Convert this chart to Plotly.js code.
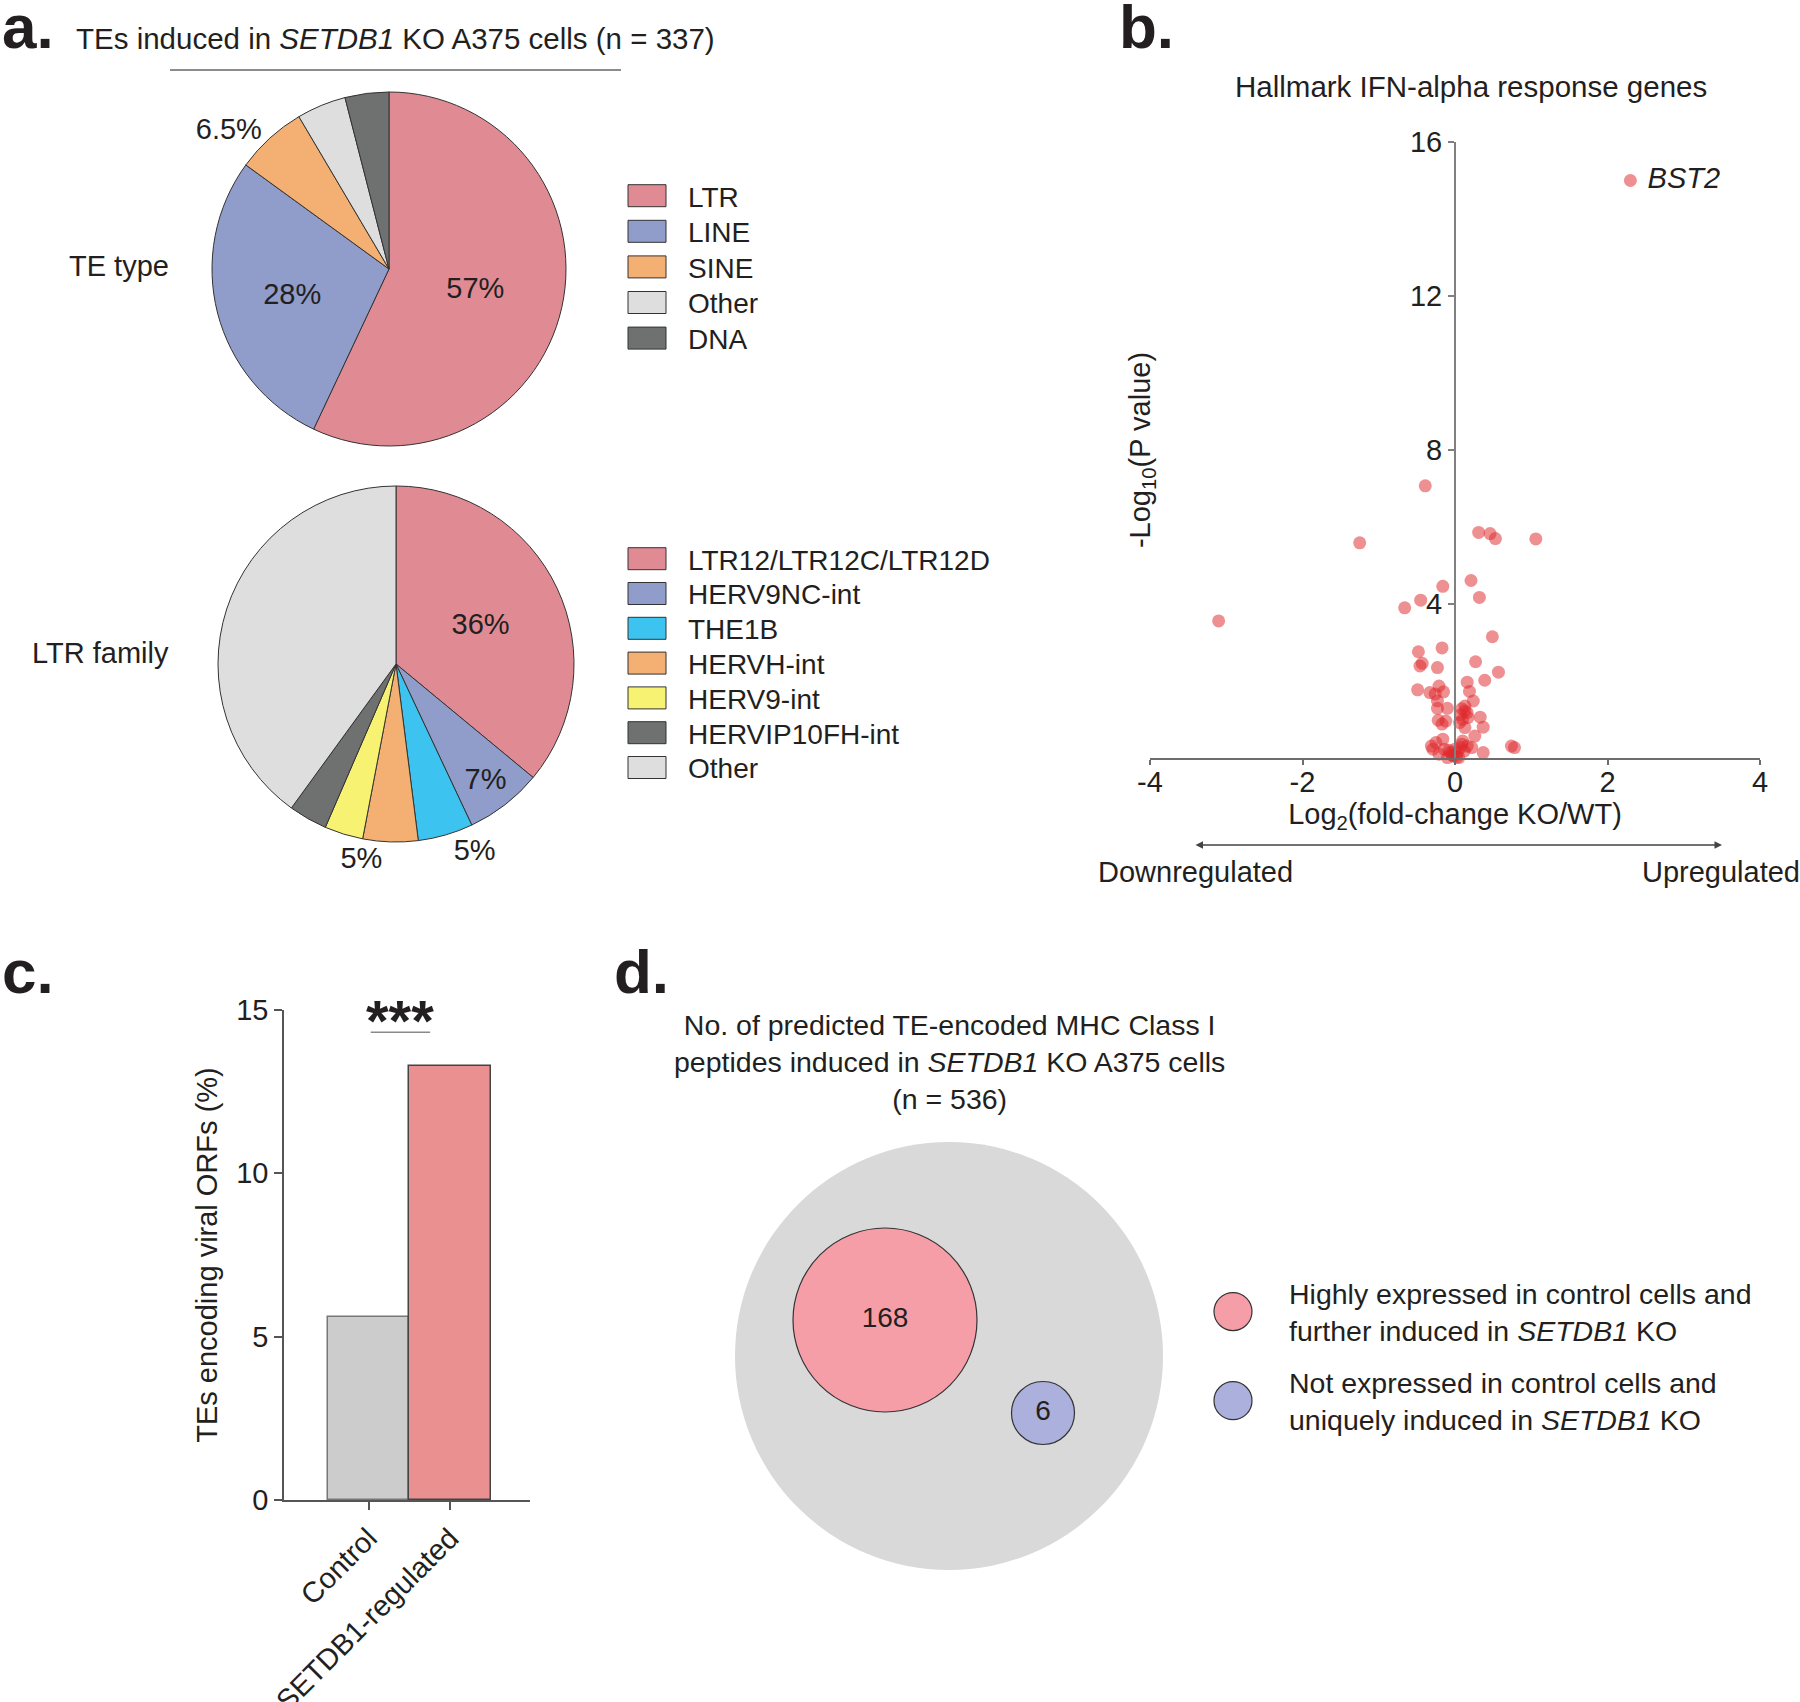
<!DOCTYPE html>
<html><head><meta charset="utf-8">
<script src="https://cdn.plot.ly/plotly-3.0.1.min.js"></script>
<style>html,body{margin:0;padding:0;background:#fff;}#chart{width:1800px;height:1702px;}</style>
</head><body><div id="chart"></div>
<script>
// ---------------- data ----------------
const teTypeLabels = ['LTR', 'LINE', 'SINE', 'Other', 'DNA'];
const teTypeValues = [57, 28, 6.5, 4.5, 4];
const teTypeText = ['57%', '28%', '6.5%', '', ''];

// trailing no-break space keeps this "Other" entry separate from the TE-type "Other"
const ltrFamilyLabels = ['LTR12/LTR12C/LTR12D', 'HERV9NC-int', 'THE1B', 'HERVH-int', 'HERV9-int', 'HERVIP10FH-int', 'Other\u00a0'];
const ltrFamilyValues = [36, 7, 5, 5, 3.5, 3.5, 40];
const ltrFamilyText = ['36%', '7%', '5%', '5%', '', '', ''];

const volcanoLog2FC = [2.3, -0.39, 0.31, 0.46, 0.53, 1.06, -1.25, 0.21, -0.16, 0.32, -0.45, -0.66, -3.1,
  0.49, -0.17, -0.48, -0.43, -0.46, -0.23, 0.27, 0.57, 0.39, 0.16, -0.49, -0.21, -0.33, -0.26, -0.15, 0.19,
  -0.23, 0.24, 0.13, -0.23, -0.10, 0.13, 0.07, 0.17, 0.33, -0.22, -0.12, -0.17, 0.06, 0.13, 0.37, 0.26,
  -0.25, -0.31, -0.16, -0.29, -0.14, -0.21, 0.74, 0.78, 0.22, 0.37, -0.06, -0.02, 0.03, 0.07, 0.00, 0.09,
  -0.10, 0.05, 0.16, 0.10, -0.04, 0.02, -0.08, 0.12, 0.10, 0.16, 0.09];
const volcanoNegLog10P = [15.0, 7.07, 5.86, 5.83, 5.70, 5.69, 5.59, 4.61, 4.46, 4.17, 4.10, 3.90, 3.56,
  3.15, 2.86, 2.76, 2.46, 2.39, 2.35, 2.50, 2.23, 2.02, 1.97, 1.77, 1.87, 1.70, 1.66, 1.72, 1.73,
  1.48, 1.48, 1.35, 1.29, 1.29, 1.22, 1.12, 1.05, 1.06, 0.98, 0.96, 0.88, 0.92, 0.79, 0.80, 0.57,
  0.40, 0.31, 0.49, 0.23, 0.23, 0.10, 0.31, 0.27, 0.27, 0.14, 0.14, 0.05, 0.14, 0.27, 0.23, 0.36,
  0.01, 0.01, 0.31, 0.44, 0.08, 0.02, 0.20, 0.18, 1.00, 1.18, 1.28];
const volcanoGene = volcanoLog2FC.map((v, i) => i === 0 ? 'BST2' : '');
const volcanoXTickVals = [-4, -2, 0, 2, 4];
const volcanoXTickText = ['-4', '-2', '0', '2', '4'];
const volcanoYTickVals = [4, 8, 12, 16];

const barCategories = ['Control', 'SETDB1-regulated'];
const barValues = [5.6, 13.3];
const barYTickVals = [0, 5, 10, 15];

const vennNames = ['All predicted peptides',
  'Highly expressed in control cells and<br>further induced in <i>SETDB1</i> KO',
  'Not expressed in control cells and<br>uniquely induced in <i>SETDB1</i> KO'];
const vennCounts = [536, 168, 6];

// ---------------- layout helpers ----------------
const W = 1800, H = 1702;
const fx = p => p / W;
const fy = p => 1 - p / H;
const FONT = 'Liberation Sans, Arial, Helvetica, sans-serif';
const TXT = '#231f20';

const teTypeColors = ['#e08b94', '#909cc9', '#f4af73', '#dedede', '#6f7170'];
const ltrColors = ['#e08b94', '#909cc9', '#3cc3f0', '#f4af73', '#f8f273', '#6f7170', '#dedede'];

// venn geometry (pixel units inside its own subplot)
const vennX = [349, 285, 443];
const vennY = [236, 200, 293];
const vennDiam = [428, 184, 63];
const vennColors = ['#d9d9d9', '#f59ea8', '#abb0dc'];

const volXDom = [fx(1150), fx(1760)];
const volXRange = [-4, 4];
const volYAxisPos = volXDom[0] + (0 - volXRange[0]) / (volXRange[1] - volXRange[0]) * (volXDom[1] - volXDom[0]);

const data = [
  {
    type: 'pie', labels: teTypeLabels, values: teTypeValues, text: teTypeText,
    textinfo: 'text', textposition: ['inside', 'inside', 'outside', 'none', 'none'],
    insidetextorientation: 'horizontal',
    sort: false, direction: 'clockwise', rotation: 0,
    marker: {colors: teTypeColors, line: {color: '#333', width: 1}},
    textfont: {family: FONT, size: 29, color: TXT},
    domain: {x: [fx(212), fx(566)], y: [fy(446), fy(92)]},
    legend: 'legend', hoverinfo: 'label+percent'
  },
  {
    type: 'pie', labels: ltrFamilyLabels, values: ltrFamilyValues, text: ltrFamilyText,
    textinfo: 'text', textposition: ['inside', 'inside', 'outside', 'outside', 'none', 'none', 'none'],
    insidetextorientation: 'horizontal',
    sort: false, direction: 'clockwise', rotation: 0,
    marker: {colors: ltrColors, line: {color: '#333', width: 1}},
    textfont: {family: FONT, size: 29, color: TXT},
    domain: {x: [fx(218), fx(574)], y: [fy(842), fy(486)]},
    legend: 'legend2', hoverinfo: 'label+percent'
  },
  {
    type: 'scatter', mode: 'markers+text', x: volcanoLog2FC, y: volcanoNegLog10P,
    text: volcanoGene, texttemplate: '\u00a0%{text}', textposition: 'middle right',
    textfont: {family: FONT, size: 29, color: TXT, style: 'italic'},
    marker: {color: 'rgba(222,40,44,0.52)', size: 13, line: {width: 0}},
    cliponaxis: false, showlegend: false, xaxis: 'x', yaxis: 'y'
  },
  {
    type: 'bar', x: barCategories, y: barValues, width: 1,
    marker: {color: ['#cccccc', '#eb9091'], line: {color: ['#777777', '#444444'], width: 1.5}},
    showlegend: false, xaxis: 'x2', yaxis: 'y2'
  }
];

vennNames.forEach((nm, i) => {
  data.push({
    type: 'scatter', mode: i === 0 ? 'markers' : 'markers+text',
    x: [vennX[i]], y: [vennY[i]], text: [String(vennCounts[i])], name: nm,
    textposition: 'middle center', textfont: {family: FONT, size: 28, color: TXT},
    marker: {color: vennColors[i], size: vennDiam[i], opacity: 1,
      line: {color: i === 0 ? '#d9d9d9' : '#333', width: i === 0 ? 0 : 1.2}},
    cliponaxis: false, showlegend: i !== 0, legend: 'legend3', legendgroup: 'g' + i,
    xaxis: 'x3', yaxis: 'y3', hoverinfo: 'name'
  });
});

const axisFont = {family: FONT, size: 29, color: TXT};

const layout = {
  width: W, height: H, margin: {l: 0, r: 0, t: 0, b: 0},
  paper_bgcolor: '#fff', plot_bgcolor: 'rgba(0,0,0,0)',
  font: {family: FONT, color: TXT, size: 28},
  showlegend: true,
  legend: {x: fx(606), y: fy(171), xanchor: 'left', yanchor: 'top', itemwidth: 72,
    font: {family: FONT, size: 28, color: TXT}, bgcolor: 'rgba(0,0,0,0)', itemclick: false},
  legend2: {x: fx(606), y: fy(534), xanchor: 'left', yanchor: 'top', itemwidth: 72,
    font: {family: FONT, size: 28, color: TXT}, bgcolor: 'rgba(0,0,0,0)', itemclick: false},
  legend3: {x: fx(1177), y: fy(1268), xanchor: 'left', yanchor: 'top', itemwidth: 102,
    traceorder: 'grouped', tracegroupgap: 12,
    font: {family: FONT, size: 28.5, color: TXT}, bgcolor: 'rgba(0,0,0,0)', itemclick: false},
  xaxis: {
    domain: volXDom, range: volXRange, anchor: 'y',
    tickvals: volcanoXTickVals, ticktext: volcanoXTickText,
    ticks: 'outside', ticklen: 5, tickwidth: 1.5, tickcolor: '#6d6d6d', ticklabelstandoff: -8,
    showline: true, linecolor: '#6d6d6d', linewidth: 2, showgrid: false, zeroline: false,
    tickfont: axisFont,
    title: {text: 'Log<sub>2</sub>(fold-change KO/WT)', font: axisFont, standoff: 4}
  },
  yaxis: {
    domain: [fy(758), fy(142)], range: [0, 16], anchor: 'free', position: volYAxisPos,
    tickvals: volcanoYTickVals, ticks: 'outside', ticklen: 6, tickwidth: 1.5, tickcolor: '#808080',
    showline: true, linecolor: '#808080', linewidth: 2, showgrid: false, zeroline: false,
    tickfont: axisFont,
    title: {text: '-Log<sub>10</sub>(P value)', font: axisFont, standoff: 250}
  },
  xaxis2: {
    domain: [fx(284), fx(530)], range: [-1.037, 1.98], anchor: 'y2', type: 'category',
    ticks: 'outside', ticklen: 8, tickwidth: 1.5, tickcolor: '#555',
    showline: true, linecolor: '#555', linewidth: 1.5, showgrid: false, zeroline: false,
    tickangle: -45, tickfont: axisFont
  },
  yaxis2: {
    domain: [fy(1500), fy(1010)], range: [0, 15], anchor: 'x2',
    tickvals: barYTickVals, ticks: 'outside', ticklen: 8, tickwidth: 1.5, tickcolor: '#555',
    showline: true, linecolor: '#555', linewidth: 1.5, showgrid: false, zeroline: false,
    tickfont: axisFont,
    title: {text: 'TEs encoding viral ORFs (%)', font: axisFont, standoff: 10}
  },
  xaxis3: {domain: [fx(600), fx(1300)], range: [0, 700], anchor: 'y3', visible: false},
  yaxis3: {domain: [fy(1600), fy(1120)], range: [480, 0], anchor: 'x3', visible: false},
  bargap: 0,
  shapes: [
    {type: 'line', xref: 'paper', yref: 'paper', x0: fx(170), x1: fx(621), y0: fy(70), y1: fy(70),
      line: {color: '#8c8c8c', width: 2}},
    {type: 'line', xref: 'x2', yref: 'y2', x0: 0.027, x1: 0.755, y0: 14.32, y1: 14.32,
      line: {color: '#8a8a8a', width: 1.5}}
  ],
  annotations: [
    {text: '<b>a.</b>', x: 0, y: fy(27), xref: 'paper', yref: 'paper', xanchor: 'left', yanchor: 'middle', showarrow: false, font: {family: FONT, size: 62, color: TXT}},
    {text: '<b>b.</b>', x: fx(1117), y: fy(27), xref: 'paper', yref: 'paper', xanchor: 'left', yanchor: 'middle', showarrow: false, font: {family: FONT, size: 62, color: TXT}},
    {text: '<b>c.</b>', x: 0, y: fy(971), xref: 'paper', yref: 'paper', xanchor: 'left', yanchor: 'middle', showarrow: false, font: {family: FONT, size: 62, color: TXT}},
    {text: '<b>d.</b>', x: fx(612), y: fy(971), xref: 'paper', yref: 'paper', xanchor: 'left', yanchor: 'middle', showarrow: false, font: {family: FONT, size: 62, color: TXT}},
    {text: 'TEs induced in <i>SETDB1</i> KO A375 cells (n = 337)', x: fx(74), y: fy(38), xref: 'paper', yref: 'paper', xanchor: 'left', yanchor: 'middle', showarrow: false, font: {family: FONT, size: 29.5, color: TXT}},
    {text: 'TE type', x: fx(119), y: fy(266), xref: 'paper', yref: 'paper', xanchor: 'center', yanchor: 'middle', showarrow: false, font: {family: FONT, size: 29, color: TXT}},
    {text: 'LTR family', x: fx(100), y: fy(653), xref: 'paper', yref: 'paper', xanchor: 'center', yanchor: 'middle', showarrow: false, font: {family: FONT, size: 29, color: TXT}},
    {text: 'Hallmark IFN-alpha response genes', x: fx(1471), y: fy(86), xref: 'paper', yref: 'paper', xanchor: 'center', yanchor: 'middle', showarrow: false, font: {family: FONT, size: 29.5, color: TXT}},
    {text: '', x: fx(1722), y: fy(845), ax: fx(1194), ay: fy(845), xref: 'paper', yref: 'paper', axref: 'paper', ayref: 'paper',
      showarrow: true, arrowside: 'end+start', arrowhead: 2, arrowsize: 1, arrowwidth: 1.5, arrowcolor: '#444'},
    {text: 'Downregulated', x: fx(1195), y: fy(872), xref: 'paper', yref: 'paper', xanchor: 'center', yanchor: 'middle', showarrow: false, font: {family: FONT, size: 29, color: TXT}},
    {text: 'Upregulated', x: fx(1721), y: fy(872), xref: 'paper', yref: 'paper', xanchor: 'center', yanchor: 'middle', showarrow: false, font: {family: FONT, size: 29, color: TXT}},
    {text: '<b>***</b>', x: 0.39, y: 1, xref: 'x2', yref: 'y2 domain', yshift: -10, xanchor: 'center', yanchor: 'middle', showarrow: false, font: {family: FONT, size: 58, color: TXT}},
    {text: 'No. of predicted TE-encoded MHC Class I<br>peptides induced in <i>SETDB1</i> KO A375 cells<br>(n = 536)', x: fx(949), y: fy(1062), xref: 'paper', yref: 'paper', xanchor: 'center', yanchor: 'middle', showarrow: false, font: {family: FONT, size: 28.5, color: TXT}}
  ]
};

function respace(gd, legendClass, step) {
  const items = gd.querySelectorAll('g.' + legendClass + ' g.traces');
  let y0 = null;
  items.forEach((g, i) => {
    const m = /translate\(\s*([-\d.e]+)[ ,]\s*([-\d.e]+)\s*\)/.exec(g.getAttribute('transform') || '');
    if (!m) return;
    if (y0 === null) y0 = parseFloat(m[2]);
    g.setAttribute('transform', 'translate(' + m[1] + ',' + (y0 + i * step) + ')');
  });
}

Plotly.newPlot('chart', data, layout, {displayModeBar: false}).then(gd => {
  gd.querySelectorAll('g.legend path.legendpie, g.legend2 path.legendpie').forEach(p => p.setAttribute('d', 'M19,11H-19V-11H19Z'));
  gd.querySelectorAll('g.legend3 path.scatterpts').forEach(p => p.setAttribute('d', 'M19,0A19,19 0 1,1 0,-19A19,19 0 0,1 19,0Z'));
  respace(gd, 'legend', 35.6);
  respace(gd, 'legend2', 34.8);
});
</script>
</body></html>
